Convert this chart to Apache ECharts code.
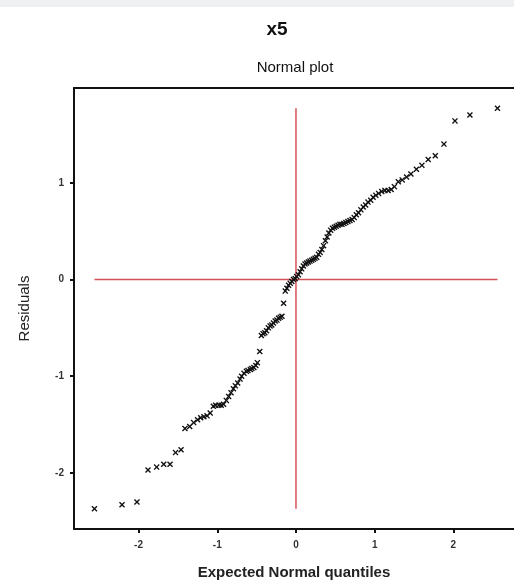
<!DOCTYPE html>
<html>
<head>
<meta charset="utf-8">
<script src="https://cdn.jsdelivr.net/npm/echarts@6/dist/echarts.min.js"></script>
<style>
  html, body { margin: 0; padding: 0; background: #fff; }
  #main { width: 514px; height: 585px; }
</style>
</head>
<body>
<div id="main"></div>
<script>
// expected normal quantiles (x) and sorted residuals (y)
var quantiles = [
  -2.56, -2.21, -2.02, -1.88, -1.77, -1.68, -1.60, -1.53, -1.46, -1.41,
  -1.35, -1.30, -1.25, -1.21, -1.17, -1.13, -1.09, -1.05, -1.02, -0.98,
  -0.95, -0.92, -0.885, -0.855, -0.825, -0.795, -0.77, -0.74, -0.71, -0.69,
  -0.66, -0.63, -0.61, -0.58, -0.56, -0.535, -0.51, -0.49, -0.46, -0.44,
  -0.418, -0.396, -0.374, -0.351, -0.329, -0.307, -0.286, -0.264, -0.242, -0.221,
  -0.200, -0.178, -0.157, -0.136, -0.115, -0.094, -0.073, -0.052, -0.031, -0.010,
  0.010, 0.031, 0.052, 0.073, 0.094, 0.115, 0.136, 0.157, 0.178, 0.200,
  0.221, 0.242, 0.264, 0.286, 0.307, 0.329, 0.351, 0.374, 0.396, 0.418,
  0.441, 0.464, 0.488, 0.511, 0.535, 0.559, 0.584, 0.609, 0.634, 0.66,
  0.686, 0.713, 0.74, 0.767, 0.795, 0.825, 0.855, 0.885, 0.915, 0.95,
  0.98, 1.015, 1.05, 1.09, 1.13, 1.17, 1.21, 1.25, 1.30, 1.35,
  1.405, 1.46, 1.53, 1.60, 1.68, 1.77, 1.88, 2.02, 2.21, 2.56
];
var residuals = [
  -2.37, -2.33, -2.30, -1.97, -1.94, -1.91, -1.91, -1.79, -1.76, -1.54,
  -1.52, -1.48, -1.45, -1.43, -1.42, -1.41, -1.38, -1.31, -1.30, -1.30,
  -1.30, -1.29, -1.25, -1.21, -1.17, -1.13, -1.10, -1.07, -1.03, -1.00,
  -0.97, -0.95, -0.94, -0.93, -0.92, -0.91, -0.89, -0.86, -0.745, -0.58,
  -0.56, -0.55, -0.53, -0.50, -0.48, -0.47, -0.45, -0.43, -0.42, -0.40,
  -0.39, -0.38, -0.245, -0.12, -0.09, -0.06, -0.04, -0.02, 0.00, 0.01,
  0.03, 0.05, 0.08, 0.11, 0.14, 0.16, 0.17, 0.18, 0.19, 0.20,
  0.21, 0.22, 0.23, 0.26, 0.28, 0.31, 0.35, 0.40, 0.44, 0.48,
  0.51, 0.53, 0.54, 0.55, 0.56, 0.57, 0.57, 0.58, 0.59, 0.60,
  0.61, 0.62, 0.64, 0.67, 0.69, 0.72, 0.75, 0.77, 0.80, 0.82,
  0.85, 0.87, 0.89, 0.91, 0.92, 0.92, 0.93, 0.96, 1.01, 1.03,
  1.06, 1.09, 1.14, 1.18, 1.24, 1.28, 1.40, 1.64, 1.70, 1.77
];
var xTicks = [-2, -1, 0, 1, 2];
var yTicks = [-2, -1, 0, 1];

var points = quantiles.map(function (q, i) { return [q, residuals[i]]; });

// red reference lines span the data range
var xLo = Math.min.apply(null, quantiles), xHi = Math.max.apply(null, quantiles);
var yLo = Math.min.apply(null, residuals), yHi = Math.max.apply(null, residuals);

var crossPath = 'path://M0,1.6L1.6,0L5,3.4L8.4,0L10,1.6L6.6,5L10,8.4L8.4,10L5,6.6L1.6,10L0,8.4L3.4,5Z';
var font = 'Liberation Sans, Arial, sans-serif';

var myChart = echarts.init(document.getElementById('main'));

var option = {
    animation: false,
    backgroundColor: '#fff',
    graphic: [
        { type: 'rect', left: 0, top: 0, shape: { width: 514, height: 7 }, style: { fill: '#eff0f2' } },
        { type: 'text', x: 277, y: 30, style: { text: 'x5', fontFamily: font, fontSize: 19, fontWeight: 'bold',
          fill: '#111', align: 'center', verticalAlign: 'middle' } },
        { type: 'text', x: 295, y: 68, style: { text: 'Normal plot', fontFamily: font, fontSize: 15,
          fill: '#111', align: 'center', verticalAlign: 'middle' } }
    ],
    grid: { left: 74, top: 88, right: 0, bottom: 50 },
    xAxis: [
        {
            type: 'value',
            min: -2.82,
            max: 2.77,
            name: 'Expected Normal quantiles',
            nameLocation: 'middle',
            nameGap: 36,
            nameTextStyle: { fontFamily: font, fontSize: 15, fontWeight: 'bold', color: '#222' },
            axisLine: { onZero: false, lineStyle: { color: '#111', width: 2 } },
            axisTick: { show: true, length: 4, lineStyle: { color: '#111', width: 2 }, customValues: xTicks },
            axisLabel: { fontFamily: font, fontSize: 10, fontWeight: 'bold', color: '#333', margin: 11, customValues: xTicks },
            splitLine: { show: false }
        },
        {
            type: 'value',
            position: 'top',
            min: -2.82,
            max: 2.77,
            axisLine: { show: true, onZero: false, lineStyle: { color: '#111', width: 2 } },
            axisTick: { show: false },
            axisLabel: { show: false },
            splitLine: { show: false }
        }
    ],
    yAxis: {
        type: 'value',
        min: -2.58,
        max: 1.98,
        name: 'Residuals',
        nameLocation: 'middle',
        nameGap: 42,
        nameTextStyle: { fontFamily: font, fontSize: 15, color: '#222' },
        axisLine: { show: true, onZero: false, lineStyle: { color: '#111', width: 2 } },
        axisTick: { show: true, length: 4, lineStyle: { color: '#111', width: 2 }, customValues: yTicks },
        axisLabel: { fontFamily: font, fontSize: 10, fontWeight: 'bold', color: '#333', margin: 10, customValues: yTicks },
        splitLine: { show: false }
    },
    series: [
        {
            type: 'line',
            data: [[xLo, 0], [xHi, 0]],
            symbol: 'none',
            lineStyle: { color: '#d6505a', width: 1.5 },
            silent: true
        },
        {
            type: 'line',
            data: [[0, yLo], [0, yHi]],
            symbol: 'none',
            lineStyle: { color: '#d6505a', width: 1.5 },
            silent: true
        },
        {
            type: 'scatter',
            data: points,
            symbol: crossPath,
            symbolSize: 6,
            itemStyle: { color: '#111', opacity: 1 },
            z: 5
        }
    ]
};

myChart.setOption(option);
</script>
</body>
</html>
